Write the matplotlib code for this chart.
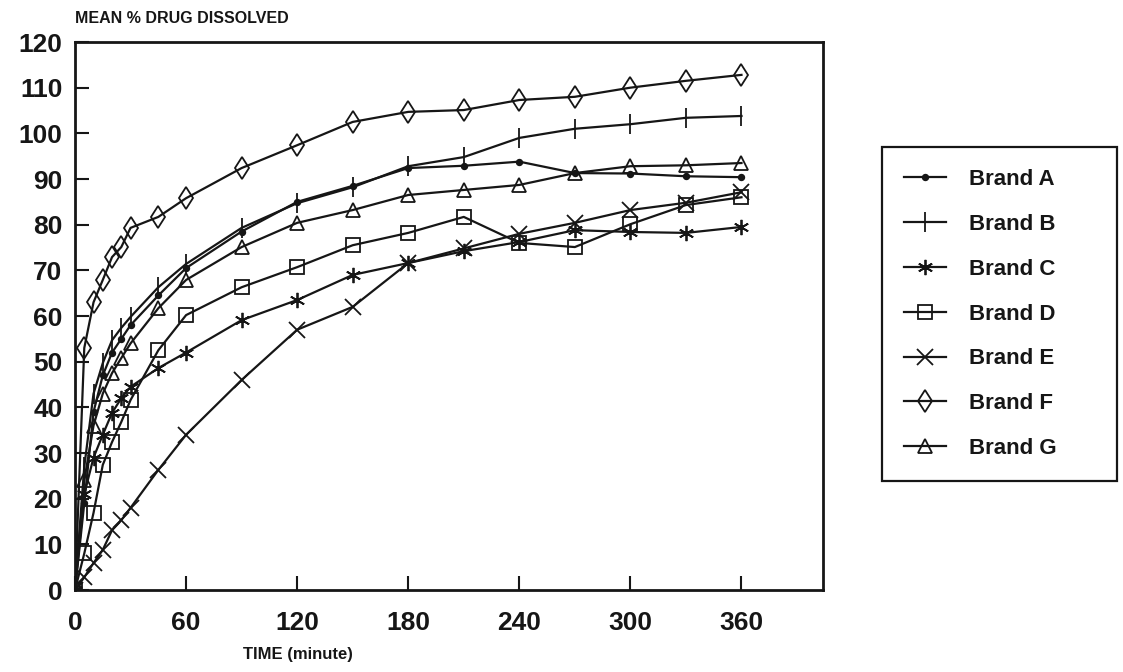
import matplotlib
matplotlib.use("Agg")
import matplotlib.pyplot as plt

plt.rcParams['font.family'] = ['Liberation Sans', 'DejaVu Sans']
plt.rcParams['font.weight'] = 'bold'

# dissolution profiles
times = [0, 5, 10, 15, 20, 25, 30, 45, 60, 90, 120, 150, 180, 210, 240, 270, 300, 330, 360]
brand_a = [0, 19, 39, 47, 52, 55, 58, 64.5, 70.5, 78.5, 85, 88.5, 92.4, 92.9, 93.8, 91.3, 91.2, 90.6, 90.4]
brand_b = [0, 27, 43, 49.7, 54.7, 57.4, 59.8, 66.3, 71.4, 79.3, 84.7, 88.2, 92.8, 94.8, 99, 101, 102, 103.4, 103.8]
brand_c = [0, 21, 29, 34, 38.8, 42, 44.5, 48.6, 52, 59.1, 63.5, 69, 71.6, 74.2, 76.2, 78.8, 78.4, 78.2, 79.5]
brand_d = [0, 8, 16.9, 27.4, 32.4, 36.8, 41.6, 52.5, 60.2, 66.3, 70.7, 75.5, 78.2, 81.7, 76, 75.1, 80.1, 84.3, 86]
brand_e = [0, 2.8, 5.9, 8.8, 13.1, 15.3, 18, 26.3, 34, 46, 57, 62, 71.6, 74.8, 78, 80.4, 83.2, 84.8, 87.1]
brand_f = [0, 53, 63, 67.9, 72.9, 75.1, 79.3, 81.7, 85.8, 92.4, 97.4, 102.5, 104.7, 105.1, 107.3, 108, 110, 111.5, 112.8]
brand_g = [0, 24, 36, 43, 47.5, 50.8, 54, 61.7, 67.9, 75.1, 80.4, 83.2, 86.5, 87.6, 88.7, 91.3, 92.8, 93, 93.5]

labels = ["Brand A", "Brand B", "Brand C", "Brand D", "Brand E", "Brand F", "Brand G"]
series = [brand_a, brand_b, brand_c, brand_d, brand_e, brand_f, brand_g]
markers = ["o", "|", (6, 2, 0), "s", "x", "d", "^"]
msizes = [4, 14, 11, 9.5, 11, 11.5, 10]

xticks = [0, 60, 120, 180, 240, 300, 360]
yticks = list(range(0, 121, 10))

fig = plt.figure(figsize=(11.23, 6.72), dpi=100)
ax = fig.add_axes([0.0668, 0.122, 0.666, 0.8155])

ink = "#161616"
for y, lab, m, ms in zip(series, labels, markers, msizes):
    filled = m == "o"
    ax.plot(times, y, color=ink, lw=1.6, marker=m, markersize=ms,
            markeredgewidth=1.3, markeredgecolor=ink,
            markerfacecolor=ink if filled else "none", label=lab)

ax.set_xlim(0, 404)
ax.set_ylim(0, 120)
ax.set_xticks(xticks)
ax.set_yticks(yticks)
ax.tick_params(direction="in", length=10, width=1.5, colors=ink, labelsize=19)
ax.tick_params(axis="y", pad=9)
ax.tick_params(axis="x", pad=15)
for s in ax.spines.values():
    s.set_linewidth(2)
    s.set_color(ink)

fig.text(0.0668, 0.972, "MEAN % DRUG DISSOLVED", fontsize=11.5, fontweight="bold",
         color=ink, ha="left", va="center")
fig.text(298 / 1123, 1 - 655 / 672, "TIME (minute)", fontsize=12, fontweight="bold",
         color=ink, ha="center", va="center")

leg_top = 1 - 147 / 672
leg = fig.legend(loc="upper left", bbox_to_anchor=(882 / 1123, leg_top - 0.05, 235 / 1123, 0.05),
                 mode="expand", fontsize=16, frameon=True, fancybox=False, framealpha=1,
                 edgecolor=ink, handlelength=1.9, handletextpad=1.0, borderpad=1.0,
                 labelspacing=1.07, borderaxespad=0)
leg.get_frame().set_linewidth(1.6)
for t in leg.get_texts():
    t.set_color(ink)

fig.savefig("out.png", dpi=100, facecolor="white")
